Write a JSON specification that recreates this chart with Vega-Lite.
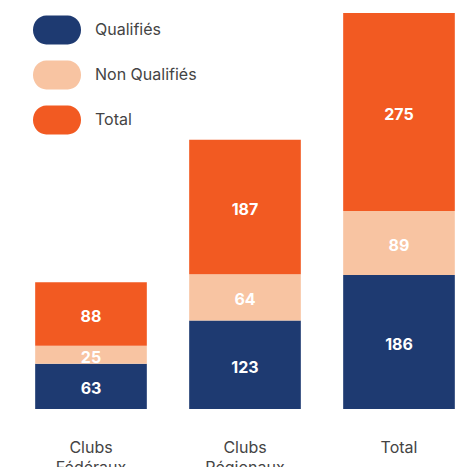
{
  "$schema": "https://vega.github.io/schema/vega-lite/v6.json",
  "width": 462,
  "height": 396,
  "padding": {"left": 14, "top": 13, "right": 0, "bottom": 58},
  "autosize": {"type": "none"},
  "background": "white",
  "config": {"view": {"stroke": null}, "font": "Inter"},
  "data": {
    "values": [
      {"cat": "Clubs Fédéraux", "serie": "Qualifiés", "rang": 1, "v": 63},
      {"cat": "Clubs Fédéraux", "serie": "Non Qualifiés", "rang": 2, "v": 25},
      {"cat": "Clubs Fédéraux", "serie": "Total", "rang": 3, "v": 88},
      {"cat": "Clubs Régionaux", "serie": "Qualifiés", "rang": 1, "v": 123},
      {"cat": "Clubs Régionaux", "serie": "Non Qualifiés", "rang": 2, "v": 64},
      {"cat": "Clubs Régionaux", "serie": "Total", "rang": 3, "v": 187},
      {"cat": "Total", "serie": "Qualifiés", "rang": 1, "v": 186},
      {"cat": "Total", "serie": "Non Qualifiés", "rang": 2, "v": 89},
      {"cat": "Total", "serie": "Total", "rang": 3, "v": 275}
    ]
  },
  "transform": [
    {"stack": "v", "groupby": ["cat"], "sort": [{"field": "rang"}], "as": ["y0", "y1"]},
    {"calculate": "(datum.y0 + datum.y1) / 2", "as": "mid"}
  ],
  "encoding": {
    "x": {
      "field": "cat", "type": "nominal", "sort": null,
      "scale": {"paddingInner": 0.275, "paddingOuter": 0.1375},
      "axis": {
        "title": null, "domain": false, "ticks": false, "labelAngle": 0,
        "labelExpr": "split(datum.label, ' ')",
        "labelPadding": 38, "labelBaseline": "middle", "labelFontSize": 16,
        "labelColor": "#444444", "labelLineHeight": 20, "labelFont": "Inter"
      }
    }
  },
  "layer": [
    {
      "mark": {"type": "bar"},
      "encoding": {
        "y": {"field": "y0", "type": "quantitative", "scale": {"domain": [0, 550], "nice": false}, "axis": null},
        "y2": {"field": "y1"},
        "color": {
          "field": "serie", "type": "nominal",
          "scale": {"domain": ["Qualifiés", "Non Qualifiés", "Total"], "range": ["#1E3A71", "#F8C4A2", "#F25A22"]},
          "legend": {
            "title": null, "orient": "none", "legendX": 19, "legendY": -7,
            "symbolType": "M -0.45,-0.6 L 0.45,-0.6 A 0.55 0.6 0 0 1 0.45 0.6 L -0.45 0.6 A 0.55 0.6 0 0 1 -0.45 -0.6 Z",
            "symbolSize": 2304, "symbolOpacity": 1, "symbolStrokeWidth": 0,
            "labelFontSize": 16, "labelColor": "#444444", "labelOffset": 14,
            "rowPadding": 6, "labelFont": "Inter"
          }
        }
      }
    },
    {
      "mark": {"type": "text", "color": "white", "fontWeight": "bold", "fontSize": 16, "baseline": "middle", "dy": 3, "font": "Inter"},
      "encoding": {
        "y": {"field": "mid", "type": "quantitative"},
        "text": {"field": "v", "type": "quantitative"}
      }
    }
  ]
}
